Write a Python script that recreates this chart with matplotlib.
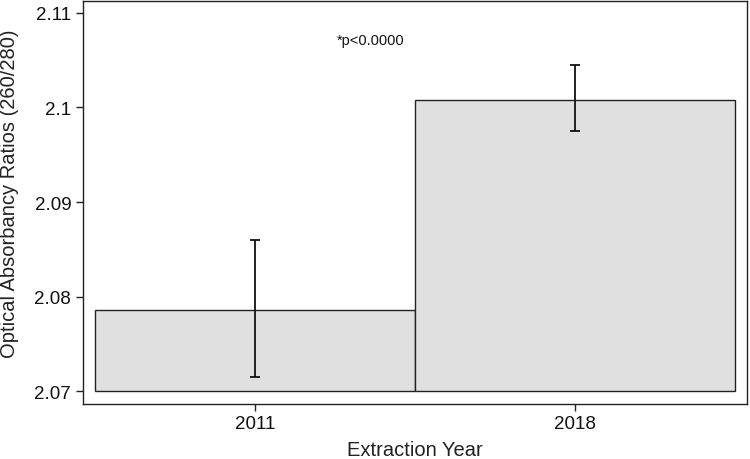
import matplotlib
matplotlib.use("Agg")
import matplotlib.pyplot as plt
import numpy as np

plt.rcParams['font.family'] = ['Liberation Sans', 'DejaVu Sans']

years = ["2011", "2018"]
means = [2.0786, 2.1008]
err_low = [2.0715, 2.0975]
err_high = [2.0860, 2.10445]
base = 2.07
yticks = [2.07, 2.08, 2.09, 2.1, 2.11]
ytick_labels = ["2.07", "2.08", "2.09", "2.1", "2.11"]
annotation = "*p<0.0000"

fig = plt.figure(figsize=(7.5, 4.6), dpi=100)
ax = fig.add_axes([83/750, 55.5/460, (747-83)/750, 402.5/460])

x = np.arange(len(years))
heights = [m - base for m in means]
ax.bar(x, heights, bottom=base, width=1.0, color="#e0e0e0",
       edgecolor="#222222", linewidth=1.0, zorder=2)
yerr = [[m - lo for m, lo in zip(means, err_low)],
        [hi - m for m, hi in zip(means, err_high)]]
ax.errorbar(x, means, yerr=yerr, fmt="none", ecolor="#111111",
            elinewidth=1.3, capsize=3.6, capthick=1.3, zorder=3)

ax.set_xlim(-0.5375, 1.5375)
ax.set_ylim(2.06873, 2.11124)
ax.set_xticks(x)
ax.set_xticklabels(years)
ax.set_yticks(yticks)
ax.set_yticklabels(ytick_labels)
ax.tick_params(axis="both", direction="out", length=5, width=1, labelsize=13.5, colors="#222222")
ax.tick_params(axis="both", labelcolor="#111111")
for s in ax.spines.values():
    s.set_linewidth(1.0)
    s.set_color("#222222")

ax.set_xlabel("Extraction Year", fontsize=14.5, color="#222222")
ax.set_ylabel("Optical Absorbancy Ratios (260/280)", fontsize=14.5, color="#222222")
ax.xaxis.set_label_coords(0.5, (404.5 - 441) / 402.5)
ax.yaxis.set_label_coords((19 - 83) / 664, (404.5 - 194) / 402.5)

ax.text(0.3625, 2.1071, annotation, ha="center", va="center", fontsize=10.5, color="#111111")

fig.savefig("out.png", dpi=100)
